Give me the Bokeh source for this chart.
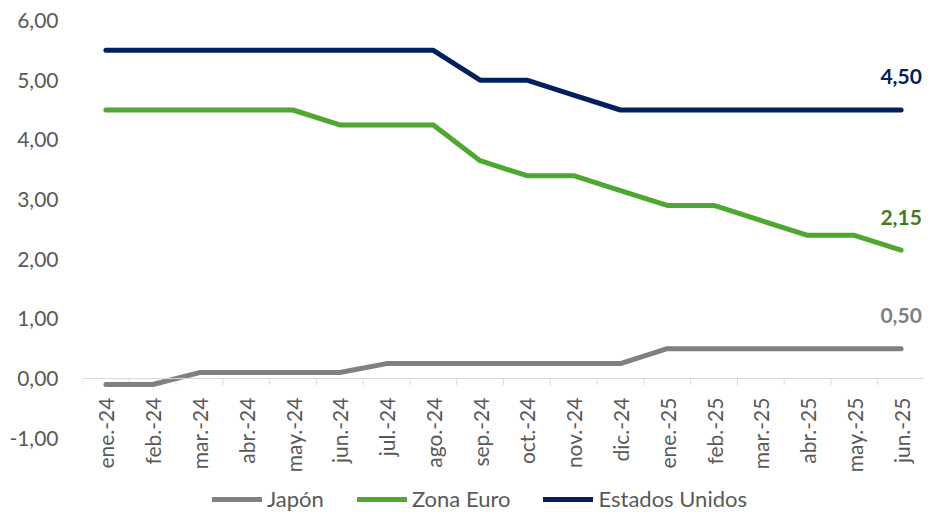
import math
from bokeh.plotting import figure
from bokeh.models import FactorRange, Range1d, FixedTicker, CustomJSTickFormatter, ColumnDataSource, Span
from bokeh.core.properties import value
from bokeh.embed import file_html
from bokeh.resources import INLINE

months = ["ene.-24", "feb.-24", "mar.-24", "abr.-24", "may.-24", "jun.-24",
          "jul.-24", "ago.-24", "sep.-24", "oct.-24", "nov.-24", "dic.-24",
          "ene.-25", "feb.-25", "mar.-25", "abr.-25", "may.-25", "jun.-25"]

japon = [-0.10, -0.10, 0.10, 0.10, 0.10, 0.10, 0.25, 0.25, 0.25, 0.25, 0.25, 0.25,
         0.50, 0.50, 0.50, 0.50, 0.50, 0.50]
zona_euro = [4.50, 4.50, 4.50, 4.50, 4.50, 4.25, 4.25, 4.25, 3.65, 3.40, 3.40, 3.15,
             2.90, 2.90, 2.65, 2.40, 2.40, 2.15]
estados_unidos = [5.50, 5.50, 5.50, 5.50, 5.50, 5.50, 5.50, 5.50, 5.00, 5.00, 4.75, 4.50,
                  4.50, 4.50, 4.50, 4.50, 4.50, 4.50]

y_ticks = [-1, 0, 1, 2, 3, 4, 5, 6]

series = [
    ("Japón", japon, "#808080", "#7F7F7F"),
    ("Zona Euro", zona_euro, "#4EA72E", "#3B7D23"),
    ("Estados Unidos", estados_unidos, "#002060", "#002060"),
]

FONT = "Lato"
TXT = "#595959"

p = figure(x_range=FactorRange(factors=months, range_padding=0),
           y_range=Range1d(-2.262, 6.335),
           width=924, height=513,
           min_border_left=82, min_border_right=0, min_border_top=0, min_border_bottom=0,
           output_backend="svg", toolbar_location=None)

p.outline_line_color = None
p.xgrid.grid_line_color = None
p.ygrid.grid_line_color = None
p.background_fill_color = "white"
p.border_fill_color = "white"
p.xaxis.visible = False

# y axis
p.yaxis.ticker = FixedTicker(ticks=y_ticks)
p.yaxis.formatter = CustomJSTickFormatter(code="return tick.toFixed(2).replace('.', ',');")
p.yaxis.axis_line_color = None
p.yaxis.major_tick_line_color = None
p.yaxis.minor_tick_line_color = None
p.yaxis.major_label_standoff = 18
p.yaxis.major_label_text_font = FONT
p.yaxis.major_label_text_font_size = "21px"
p.yaxis.major_label_text_color = TXT

# category axis line at y = 0
p.add_layout(Span(location=0, dimension="width", line_color="#D9D9D9", line_width=1))

# tick marks between categories
bx = [(m, -0.5) for m in months] + [(months[-1], 0.5)]
p.segment(x0=bx, y0=[0] * len(bx), x1=bx, y1=[-0.11] * len(bx),
          line_color="#D9D9D9", line_width=1)

# category labels (rotated, below the axis line)
p.text(x=months, y=[0] * len(months), text=months, angle=math.pi / 2,
       text_align="right", text_baseline="middle", y_offset=19,
       text_color=TXT, text_font=value(FONT), text_font_size="21px")

for name, vals, col, lab_col in series:
    p.line(x=months, y=vals, line_color=col, line_width=5, line_cap="round",
           line_join="round", legend_label=name)
    src = ColumnDataSource(dict(x=[months[-1]], y=[vals[-1]],
                                t=[f"{vals[-1]:.2f}".replace(".", ",")]))
    p.text(x="x", y="y", text="t", source=src, text_align="center",
           text_baseline="middle", y_offset=-33, text_color=lab_col,
           text_font=value(FONT), text_font_size="21px", text_font_style="bold")

lg = p.legend[0]
lg.orientation = "horizontal"
lg.location = (130, 1)
lg.border_line_color = None
lg.background_fill_alpha = 0
lg.padding = 0
lg.margin = 0
lg.spacing = 33
lg.glyph_width = 50
lg.glyph_height = 20
lg.label_standoff = 5
lg.label_text_font = FONT
lg.label_text_font_size = "22px"
lg.label_text_color = TXT

open("out.html", "w").write(file_html(p, INLINE))
